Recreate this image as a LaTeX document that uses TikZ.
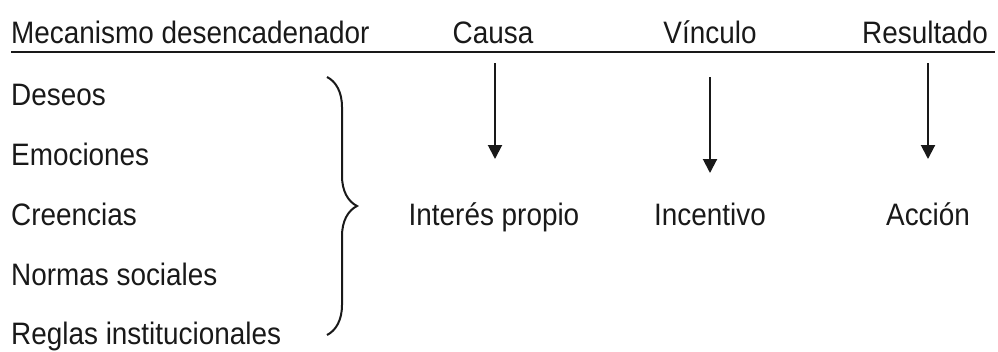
\documentclass[tikz,border=0pt]{standalone}
\usepackage{fontspec}
\setmainfont[FakeStretch=0.9]{Liberation Sans}
\usepackage{xcolor}
\usepackage{tikz}
\usetikzlibrary{arrows.meta,decorations.pathreplacing}
\definecolor{tinta}{RGB}{25,25,25}

\begin{document}
\begin{tikzpicture}[x=1pt,y=-1pt,
    texto/.style={inner sep=0pt,text=tinta,font=\fontsize{31}{36}\selectfont},
    flecha/.style={draw=tinta,line width=2pt,-{Triangle[width=14pt,length=14pt]}},
    llave/.style={draw=tinta,line width=2pt,decorate,decoration={brace,amplitude=30pt}}]
                \useasboundingbox (0,0) rectangle (998,351);
                % encabezados
                \node[texto,anchor=base west] (mecanismo) at (11,43) {Mecanismo desencadenador};
                \node[texto,anchor=base] (causa) at (493,43) {Causa};
                \node[texto,anchor=base] (vinculo) at (710,43) {Vínculo};
                \node[texto,anchor=base] (resultado) at (925,43) {Resultado};
                \draw[tinta,line width=2.2pt] (11,52) -- (995,52);
                % mecanismos
                \node[texto,anchor=base west] (deseos) at (11,105) {Deseos};
                \node[texto,anchor=base west] (emociones) at (11,165) {Emociones};
                \node[texto,anchor=base west] (creencias) at (11,225) {Creencias};
                \node[texto,anchor=base west] (normas) at (11,285) {Normas sociales};
                \node[texto,anchor=base west] (reglas) at (11,344) {Reglas institucionales};
                \coordinate (llave-a) at (327,77);
                \coordinate (llave-b) at (327,335);
                \draw[llave] (llave-a) -- (llave-b);
                % resultados
                \node[texto,anchor=base] (interes) at (494,225) {Interés propio};
                \node[texto,anchor=base] (incentivo) at (710,225) {Incentivo};
                \node[texto,anchor=base] (accion) at (928,225) {Acción};
                % flechas
                \coordinate (causa-a) at (495,63);
                \coordinate (causa-b) at (495,159);
                \coordinate (vinculo-a) at (710,77);
                \coordinate (vinculo-b) at (710,173);
                \coordinate (resultado-a) at (928,63);
                \coordinate (resultado-b) at (928,159);
                \draw[flecha] (causa-a) -- (causa-b);
                \draw[flecha] (vinculo-a) -- (vinculo-b);
                \draw[flecha] (resultado-a) -- (resultado-b);
\end{tikzpicture}
\end{document}
